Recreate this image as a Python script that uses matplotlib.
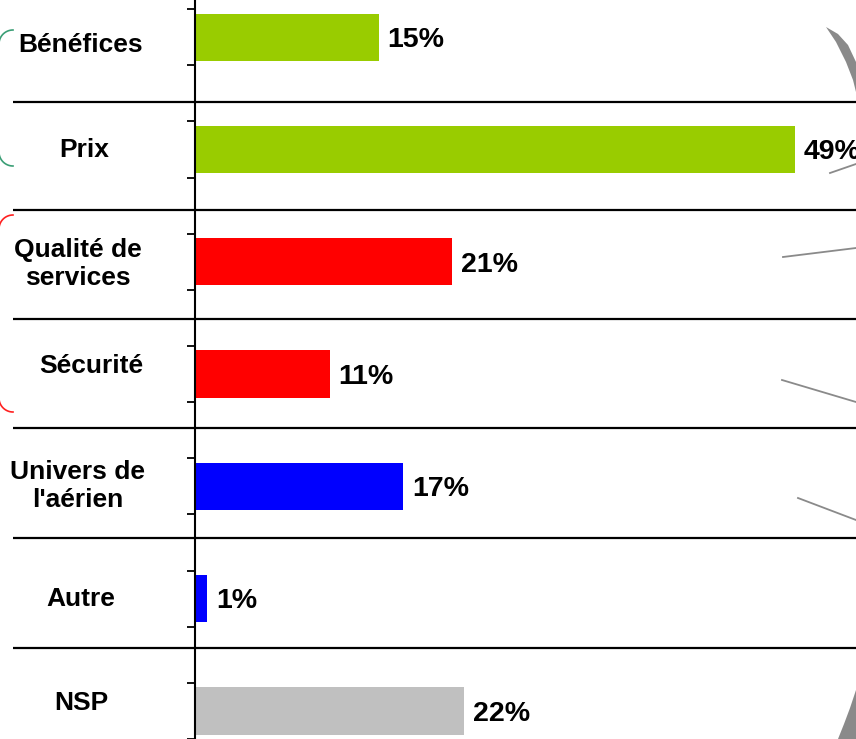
import matplotlib.pyplot as plt
import numpy as np
from matplotlib.patches import Polygon

plt.rcParams["font.family"] = ["Liberation Sans", "DejaVu Sans"]

categories = ["Bénéfices", "Prix", "Qualité de\nservices", "Sécurité",
              "Univers de\nl'aérien", "Autre", "NSP"]
values = [15, 49, 21, 11, 17, 1, 22]
bar_colors = ["#99CC00", "#99CC00", "#FF0000", "#FF0000",
              "#0000FF", "#0000FF", "#C0C0C0"]

W, H = 856, 739
fig = plt.figure(figsize=(W / 100, H / 100), dpi=100)

# background layer in pixel units: table rules, row labels, slide leftovers
bg = fig.add_axes([0, 0, 1, 1])
bg.set_xlim(0, W)
bg.set_ylim(H, 0)
bg.axis("off")

rules_y = [102, 210, 319, 428, 538, 648]
for y in rules_y:
    bg.plot([13, W], [y, y], color="black", lw=1.6, solid_capstyle="butt")

label_x = [81, 84, 78, 91, 78, 81, 81]
label_y = [45, 150, 264, 366, 486, 599, 703]
for text, x, y in zip(categories, label_x, label_y):
    bg.text(x, y, text, ha="center", va="center", fontsize=19,
            fontweight="bold", linespacing=1.2)


def bracket(y_top, y_bot, color, r=14, x0=-1):
    t = np.linspace(0, np.pi / 2, 30)
    top = np.c_[x0 + r - r * np.sin(t), y_top + r - r * np.cos(t)]
    bot = np.c_[x0 + r - r * np.cos(t), y_bot - r + r * np.sin(t)]
    pts = np.vstack([top, bot])
    bg.plot(pts[:, 0], pts[:, 1], color=color, lw=1.2)


bracket(30, 166, "#3a9e75")
bracket(215, 412, "#ff2020")

# grey bits of a clipped pie chart on the right edge
leaders = [((830, 173), (856, 164)), ((783, 257), (856, 248)),
           ((782, 380), (856, 402)), ((798, 498), (856, 520))]
for (x1, y1), (x2, y2) in leaders:
    bg.plot([x1, x2], [y1, y2], color="#8a8a8a", lw=1.3)

bg.add_patch(Polygon([(826, 27), (836, 42), (846, 62), (853, 80), (856, 92),
                      (856, 62), (848, 45), (838, 34)],
                     closed=True, color="#8a8a8a", lw=0))
bg.add_patch(Polygon([(856, 690), (850, 708), (844, 724), (838, 739), (856, 739)],
                     closed=True, color="#8a8a8a", lw=0))

# bar chart
ax = fig.add_axes([195 / W, 0, 1 - 195 / W, 1])
ax.patch.set_alpha(0)
px_per_pct = 12.24
ax.set_xlim(0, (W - 195) / px_per_pct)
step = 112.5
first = 37.3
ax.set_ylim((H - first) / step, -first / step)

pos = np.arange(len(values))
ax.barh(pos, values, height=0.42, color=bar_colors)
for p, v in zip(pos, values):
    # the last label (49%) runs off the right edge, as in the original slide
    ax.annotate(f"{v}%", (v, p), xytext=(6.5, -2), textcoords="offset points",
                ha="left", va="center", fontsize=20.5, fontweight="bold")

ticks = np.sort(np.r_[pos - 0.25, pos + 0.25])
ax.set_yticks(ticks)
ax.set_yticklabels([])
ax.tick_params(axis="y", direction="out", length=6, width=1.3, color="black")
ax.set_xticks([])
for side in ["top", "right", "bottom"]:
    ax.spines[side].set_visible(False)
ax.spines["left"].set_linewidth(1.5)

fig.savefig("out.png", dpi=100)
